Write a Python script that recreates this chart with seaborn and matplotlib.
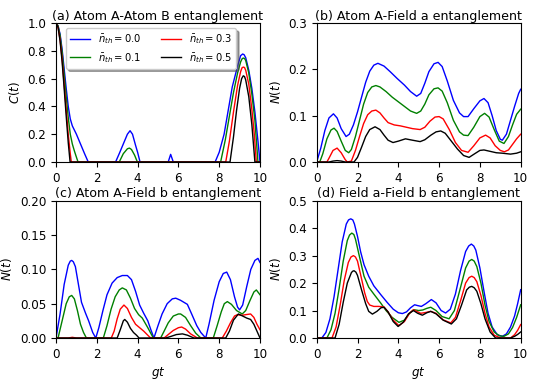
import numpy as np
import pandas as pd
import matplotlib
matplotlib.use("Agg")
import matplotlib.pyplot as plt
import seaborn as sns

# ---------------- data ----------------
labels = [r'$\bar{n}_{th}=0.0$', r'$\bar{n}_{th}=0.1$', r'$\bar{n}_{th}=0.3$', r'$\bar{n}_{th}=0.5$']
colors = ['blue', 'green', 'red', 'black']

# (a) Atom A - Atom B concurrence
a_x0 = [0, 0.1, 0.2, 0.3, 0.4, 0.5, 0.6, 0.7, 0.8, 0.9, 1.0, 1.2, 1.4, 1.58, 2.92, 3.1, 3.3, 3.5, 3.63, 3.75, 3.9, 4.0, 4.12,
        5.5, 5.62, 5.75, 7.8, 8.0, 8.24, 8.44, 8.64, 8.9, 9.05, 9.15, 9.22, 9.3, 9.45, 9.6, 9.75, 9.9, 10.0]
a_y0 = [1.0, 0.98, 0.92, 0.81, 0.67, 0.53, 0.40, 0.31, 0.26, 0.23, 0.20, 0.13, 0.06, 0.0, 0.0, 0.06, 0.13, 0.20, 0.225, 0.20, 0.12, 0.07, 0.0,
        0.0, 0.055, 0.0, 0.0, 0.07, 0.20, 0.37, 0.54, 0.69, 0.765, 0.777, 0.772, 0.75, 0.66, 0.53, 0.36, 0.15, 0.0]
a_x1 = [0, 0.1, 0.2, 0.3, 0.4, 0.5, 0.6, 0.7, 0.8, 0.9, 1.0, 1.08, 3.1, 3.3, 3.5, 3.6, 3.7, 3.85, 3.99,
        8.07, 8.3, 8.5, 8.7, 8.9, 9.05, 9.12, 9.18, 9.24, 9.3, 9.45, 9.6, 9.75, 9.9, 10.0]
a_y1 = [1.0, 0.98, 0.91, 0.79, 0.63, 0.47, 0.32, 0.20, 0.13, 0.08, 0.035, 0.0, 0.0, 0.06, 0.095, 0.10, 0.09, 0.05, 0.0,
        0.0, 0.16, 0.33, 0.50, 0.64, 0.72, 0.742, 0.748, 0.745, 0.73, 0.64, 0.49, 0.30, 0.0, 0.0]
a_x2 = [0, 0.1, 0.2, 0.3, 0.4, 0.5, 0.6, 0.7, 0.75, 8.32, 8.5, 8.7, 8.9, 9.05, 9.12, 9.18, 9.24, 9.3, 9.45, 9.6, 9.72, 9.82, 10.0]
a_y2 = [1.0, 0.97, 0.88, 0.74, 0.56, 0.38, 0.20, 0.06, 0.0, 0.0, 0.15, 0.36, 0.55, 0.65, 0.678, 0.683, 0.68, 0.66, 0.56, 0.38, 0.20, 0.0, 0.0]
a_x3 = [0, 0.1, 0.2, 0.3, 0.4, 0.5, 0.6, 0.69, 8.53, 8.7, 8.85, 9.0, 9.1, 9.18, 9.24, 9.3, 9.45, 9.6, 9.75, 10.0]
a_y3 = [1.0, 0.97, 0.87, 0.72, 0.53, 0.33, 0.14, 0.0, 0.0, 0.18, 0.37, 0.53, 0.60, 0.62, 0.615, 0.59, 0.47, 0.27, 0.0, 0.0]

# (b) Atom A - Field a negativity
b_x0 = [0, 0.2, 0.4, 0.6, 0.82, 1.0, 1.2, 1.44, 1.6, 1.8, 2.0, 2.2, 2.4, 2.6, 2.8, 3.0, 3.3, 3.6, 3.95, 4.3, 4.6, 4.9,
        5.1, 5.3, 5.5, 5.75, 5.95, 6.15, 6.4, 6.7, 7.0, 7.2, 7.42, 7.7, 8.0, 8.2, 8.4, 8.6, 8.8, 9.0, 9.1, 9.3, 9.5, 9.7, 9.9, 10.0]
b_y0 = [0, 0.03, 0.068, 0.095, 0.104, 0.095, 0.072, 0.055, 0.06, 0.08, 0.108, 0.14, 0.172, 0.196, 0.209, 0.213, 0.207, 0.195, 0.18, 0.166, 0.152, 0.142,
        0.148, 0.17, 0.195, 0.212, 0.215, 0.206, 0.175, 0.133, 0.106, 0.098, 0.098, 0.115, 0.132, 0.137, 0.128, 0.10, 0.068, 0.049, 0.047, 0.06, 0.09, 0.12, 0.148, 0.157]
b_x1 = [0, 0.15, 0.3, 0.5, 0.7, 0.85, 1.0, 1.2, 1.4, 1.57, 1.7, 1.9, 2.1, 2.3, 2.5, 2.7, 2.9, 3.1, 3.4, 3.7, 4.0, 4.3, 4.6, 4.9,
        5.1, 5.3, 5.5, 5.75, 5.95, 6.15, 6.4, 6.7, 7.0, 7.2, 7.42, 7.7, 8.0, 8.23, 8.45, 8.7, 8.95, 9.18, 9.4, 9.6, 9.8, 10.0]
b_y1 = [0, 0.0, 0.018, 0.05, 0.069, 0.073, 0.066, 0.045, 0.025, 0.02, 0.027, 0.055, 0.09, 0.125, 0.15, 0.162, 0.165, 0.162, 0.152, 0.14, 0.13, 0.12, 0.11, 0.105,
        0.11, 0.125, 0.145, 0.158, 0.16, 0.153, 0.128, 0.09, 0.065, 0.058, 0.057, 0.075, 0.098, 0.105, 0.097, 0.07, 0.045, 0.04, 0.055, 0.08, 0.103, 0.114]
b_x2 = [0, 0.5, 0.6, 0.8, 1.0, 1.2, 1.4, 1.5, 1.7, 1.9, 2.1, 2.3, 2.5, 2.7, 2.9, 3.1, 3.3, 3.5, 3.8, 4.1, 4.4, 4.7, 5.07,
        5.3, 5.55, 5.8, 6.0, 6.2, 6.5, 6.8, 7.1, 7.42, 7.7, 8.0, 8.28, 8.5, 8.75, 9.0, 9.2, 9.4, 9.6, 9.8, 10.0]
b_y2 = [0, 0, 0.008, 0.025, 0.03, 0.02, 0.005, 0.0, 0.002, 0.025, 0.055, 0.083, 0.102, 0.11, 0.112, 0.106, 0.095, 0.085, 0.08, 0.078, 0.075, 0.072, 0.07,
        0.075, 0.088, 0.097, 0.098, 0.093, 0.07, 0.042, 0.025, 0.021, 0.035, 0.052, 0.058, 0.052, 0.035, 0.025, 0.022, 0.026, 0.038, 0.05, 0.06]
b_x3 = [0, 0.6, 0.8, 1.0, 1.2, 1.4, 1.83, 2.0, 2.2, 2.4, 2.6, 2.86, 3.1, 3.3, 3.5, 3.74, 4.0, 4.35, 4.7, 5.07,
        5.3, 5.6, 5.85, 6.08, 6.3, 6.6, 6.9, 7.2, 7.47, 7.75, 8.0, 8.2, 8.5, 8.8, 9.1, 9.5, 9.8, 10.0]
b_y3 = [0, 0, 0.002, 0.003, 0.002, 0.0, 0.0, 0.01, 0.032, 0.055, 0.07, 0.076, 0.07, 0.058, 0.047, 0.042, 0.045, 0.05, 0.047, 0.044,
        0.048, 0.058, 0.065, 0.067, 0.062, 0.045, 0.028, 0.014, 0.01, 0.018, 0.025, 0.026, 0.023, 0.02, 0.019, 0.017, 0.019, 0.022]

# (c) Atom A - Field b negativity
c_x0 = [0, 0.2, 0.4, 0.6, 0.7, 0.77, 0.85, 0.95, 1.1, 1.25, 1.45, 1.6, 1.8, 1.95, 2.1, 2.3, 2.5, 2.75, 3.0, 3.25, 3.5, 3.7, 3.9, 4.1, 4.3, 4.5, 4.65, 4.8,
        5.0, 5.2, 5.45, 5.7, 5.87, 6.1, 6.44, 6.65, 6.9, 7.1, 7.34, 7.5, 7.75, 8.0, 8.2, 8.37, 8.55, 8.75, 8.9, 9.0, 9.15, 9.35, 9.55, 9.75, 9.9, 10.0]
c_y0 = [0, 0.035, 0.078, 0.106, 0.112, 0.113, 0.111, 0.104, 0.078, 0.052, 0.036, 0.025, 0.008, 0.0, 0.015, 0.04, 0.063, 0.08, 0.088, 0.091, 0.091, 0.085, 0.068, 0.048, 0.036, 0.025, 0.012, 0.0,
        0.018, 0.035, 0.05, 0.057, 0.058, 0.055, 0.049, 0.035, 0.018, 0.008, 0.0, 0.02, 0.055, 0.082, 0.094, 0.096, 0.085, 0.06, 0.045, 0.041, 0.048, 0.075, 0.10, 0.113, 0.116, 0.11]
c_x1 = [0, 0.1, 0.3, 0.5, 0.65, 0.77, 0.9, 1.05, 1.2, 1.35, 1.49, 2.32, 2.5, 2.7, 2.9, 3.1, 3.25, 3.45, 3.65, 3.85, 4.05, 4.23, 4.5, 4.77,
        5.13, 5.3, 5.5, 5.75, 6.0, 6.11, 6.35, 6.6, 6.85, 7.1, 7.71, 7.9, 8.1, 8.25, 8.4, 8.6, 8.85, 9.13, 9.3, 9.5, 9.7, 9.82, 10.0]
c_y1 = [0, 0.0, 0.025, 0.05, 0.06, 0.062, 0.057, 0.04, 0.02, 0.008, 0.0, 0.0, 0.018, 0.042, 0.06, 0.07, 0.073, 0.07, 0.058, 0.043, 0.034, 0.029, 0.015, 0.0,
        0.0, 0.01, 0.022, 0.032, 0.035, 0.035, 0.03, 0.018, 0.007, 0.0, 0.0, 0.018, 0.038, 0.05, 0.053, 0.049, 0.04, 0.035, 0.04, 0.054, 0.067, 0.07, 0.063]
c_x2 = [0, 0.6, 0.8, 1.0, 2.71, 2.85, 3.0, 3.15, 3.33, 3.5, 3.7, 3.9, 4.1, 4.3, 4.5, 4.64, 5.3, 5.5, 5.75, 6.0, 6.16, 6.35, 6.6, 6.93,
        8.15, 8.35, 8.55, 8.75, 8.89, 9.1, 9.3, 9.54, 9.7, 9.85, 10.0]
c_y2 = [0, 0.0, 0.001, 0.0, 0.0, 0.01, 0.028, 0.042, 0.048, 0.043, 0.03, 0.02, 0.015, 0.01, 0.004, 0.0, 0.0, 0.005, 0.011, 0.015, 0.016, 0.013, 0.006, 0.0,
        0.0, 0.01, 0.022, 0.032, 0.034, 0.033, 0.034, 0.035, 0.03, 0.02, 0.012]
c_x3 = [0, 3.0, 3.15, 3.3, 3.37, 3.5, 3.65, 3.8, 3.95, 4.07, 5.38, 5.6, 5.9, 6.2, 6.45, 6.76,
        8.32, 8.5, 8.7, 8.94, 9.15, 9.35, 9.54, 9.7, 9.85, 10.0]
c_y3 = [0, 0.0, 0.012, 0.025, 0.027, 0.023, 0.014, 0.008, 0.004, 0.0, 0.0, 0.002, 0.005, 0.006, 0.004, 0.0,
        0.0, 0.01, 0.026, 0.035, 0.032, 0.029, 0.027, 0.02, 0.01, 0.0]

# (d) Field a - Field b negativity
d_x0 = [0, 0.25, 0.45, 0.65, 0.85, 1.05, 1.25, 1.45, 1.56, 1.67, 1.77, 1.85, 2.0, 2.15, 2.32, 2.55, 2.8, 3.14, 3.45, 3.75, 4.0, 4.2, 4.4, 4.6, 4.8, 4.95,
        5.13, 5.35, 5.62, 5.85, 6.1, 6.32, 6.55, 6.8, 7.05, 7.3, 7.45, 7.58, 7.7, 7.8, 8.0, 8.2, 8.4, 8.6, 8.85, 9.1, 9.3, 9.5, 9.7, 9.85, 10.0]
d_y0 = [0, 0.0, 0.02, 0.07, 0.15, 0.25, 0.35, 0.415, 0.43, 0.434, 0.43, 0.415, 0.37, 0.315, 0.267, 0.225, 0.19, 0.158, 0.13, 0.105, 0.092, 0.089, 0.095, 0.11, 0.121, 0.118,
        0.115, 0.125, 0.14, 0.128, 0.10, 0.091, 0.105, 0.16, 0.245, 0.315, 0.335, 0.342, 0.335, 0.32, 0.255, 0.17, 0.09, 0.04, 0.012, 0.006, 0.015, 0.04, 0.08, 0.125, 0.176]
d_x1 = [0, 0.5, 0.7, 0.9, 1.1, 1.3, 1.5, 1.61, 1.72, 1.82, 1.9, 2.1, 2.32, 2.55, 2.8, 3.14, 3.4, 3.7, 4.03, 4.3, 4.55, 4.77, 5.0, 5.2, 5.4, 5.59,
        5.85, 6.15, 6.49, 6.75, 7.0, 7.3, 7.47, 7.6, 7.72, 7.85, 8.05, 8.25, 8.45, 8.7, 8.95, 9.18, 9.4, 9.6, 9.8, 10.0]
d_y1 = [0, 0.0, 0.03, 0.09, 0.18, 0.28, 0.355, 0.375, 0.382, 0.377, 0.36, 0.295, 0.225, 0.185, 0.16, 0.127, 0.10, 0.075, 0.057, 0.065, 0.09, 0.103, 0.10, 0.102, 0.108, 0.112,
        0.10, 0.078, 0.07, 0.10, 0.17, 0.255, 0.28, 0.286, 0.28, 0.26, 0.20, 0.12, 0.06, 0.022, 0.008, 0.006, 0.015, 0.038, 0.075, 0.121]
d_x2 = [0, 0.75, 0.95, 1.15, 1.35, 1.55, 1.68, 1.8, 1.9, 2.0, 2.2, 2.35, 2.48, 2.6, 2.8, 3.05, 3.3, 3.5, 3.75, 4.03, 4.3, 4.55, 4.74, 4.9, 5.1, 5.35, 5.59,
        5.85, 6.2, 6.57, 6.8, 7.05, 7.3, 7.47, 7.6, 7.72, 7.85, 8.05, 8.25, 8.45, 8.7, 9.02, 9.5, 9.7, 9.85, 10.0]
d_y2 = [0, 0.0, 0.04, 0.12, 0.21, 0.275, 0.295, 0.30, 0.295, 0.28, 0.215, 0.165, 0.133, 0.12, 0.115, 0.115, 0.113, 0.095, 0.065, 0.045, 0.06, 0.09, 0.103, 0.097, 0.09, 0.093, 0.097,
        0.09, 0.066, 0.055, 0.075, 0.135, 0.20, 0.22, 0.225, 0.22, 0.205, 0.155, 0.09, 0.04, 0.01, 0.0, 0.0, 0.012, 0.028, 0.049]
d_x3 = [0, 0.9, 1.1, 1.3, 1.5, 1.7, 1.76, 1.83, 1.92, 2.0, 2.2, 2.4, 2.55, 2.73, 2.95, 3.15, 3.3, 3.5, 3.75, 3.99, 4.25, 4.5, 4.74, 4.95, 5.18, 5.4, 5.59,
        5.85, 6.2, 6.6, 6.85, 7.1, 7.35, 7.48, 7.6, 7.72, 7.85, 8.05, 8.25, 8.5, 8.77, 9.5, 9.7, 9.85, 10.0]
d_y3 = [0, 0.0, 0.05, 0.13, 0.20, 0.238, 0.243, 0.245, 0.24, 0.228, 0.175, 0.125, 0.097, 0.087, 0.097, 0.11, 0.112, 0.095, 0.06, 0.042, 0.058, 0.088, 0.10, 0.09, 0.083, 0.092, 0.097,
        0.088, 0.065, 0.051, 0.07, 0.12, 0.175, 0.185, 0.188, 0.183, 0.17, 0.125, 0.07, 0.022, 0.0, 0.0, 0.006, 0.013, 0.022]

titles = ['(a) Atom A-Atom B entanglement', '(b) Atom A-Field a entanglement',
          '(c) Atom A-Field b entanglement', '(d) Field a-Field b entanglement']
ylabels = ['$C(t)$', '$N(t)$', '$N(t)$', '$N(t)$']
yticks_a = [0.0, 0.2, 0.4, 0.6, 0.8, 1.0]
yticks_b = [0.0, 0.1, 0.2, 0.3]
yticks_c = [0.00, 0.05, 0.10, 0.15, 0.20]
yticks_d = [0.0, 0.1, 0.2, 0.3, 0.4, 0.5]
xticks = [0, 2, 4, 6, 8, 10]

# ---------------- figure ----------------
plt.rcParams['font.family'] = ['DejaVu Sans']
plt.rcParams['mathtext.fontset'] = 'dejavusans'
FS = 8.6
FT = 9.1

fig = plt.figure(figsize=(5.4, 3.8), dpi=100)
W, H = 540.0, 380.0
def add_ax(x0, x1, ytop, ybot):
    return fig.add_axes([x0 / W, 1 - ybot / H, (x1 - x0) / W, (ybot - ytop) / H])

axA = add_ax(56, 260, 23, 162)
axB = add_ax(316.7, 520.7, 23, 162)
axC = add_ax(56, 260, 200.7, 338)
axD = add_ax(316.7, 520.7, 200.7, 338)

panels = [
    (axA, [(a_x0, a_y0), (a_x1, a_y1), (a_x2, a_y2), (a_x3, a_y3)], yticks_a, '{:.1f}'),
    (axB, [(b_x0, b_y0), (b_x1, b_y1), (b_x2, b_y2), (b_x3, b_y3)], yticks_b, '{:.1f}'),
    (axC, [(c_x0, c_y0), (c_x1, c_y1), (c_x2, c_y2), (c_x3, c_y3)], yticks_c, '{:.2f}'),
    (axD, [(d_x0, d_y0), (d_x1, d_y1), (d_x2, d_y2), (d_x3, d_y3)], yticks_d, '{:.1f}'),
]

for i, (ax, curves, yt, fmt) in enumerate(panels):
    for (xs, ys), col, lab in zip(curves, colors, labels):
        df = pd.DataFrame({'x': xs, 'y': ys})
        sns.lineplot(data=df, x='x', y='y', ax=ax, color=col, lw=1.0,
                     label=lab if i == 0 else None, sort=False, estimator=None)
    ax.set_xlim(0, 10)
    ax.set_ylim(yt[0], yt[-1])
    ax.set_xticks(xticks)
    ax.set_xticklabels([str(t) for t in xticks], fontsize=FS)
    ax.set_yticks(yt)
    ax.set_yticklabels([fmt.format(t) for t in yt], fontsize=FS)
    ax.set_title(titles[i], fontsize=FT, pad=2.5)
    ax.set_ylabel(ylabels[i], fontsize=FS, labelpad=4)
    ax.set_xlabel('$gt$' if i >= 2 else '', fontsize=FS, labelpad=3)
    if i != 0 and ax.get_legend() is not None:
        ax.get_legend().remove()

axA.legend(loc='upper center', bbox_to_anchor=(0.465, 0.962), borderaxespad=0,
           ncol=2, fontsize=7.2, shadow=True, framealpha=1, edgecolor='0.8',
           handlelength=2.0, columnspacing=2.0, labelspacing=0.45, borderpad=0.4)

fig.savefig('out.png', dpi=100)
